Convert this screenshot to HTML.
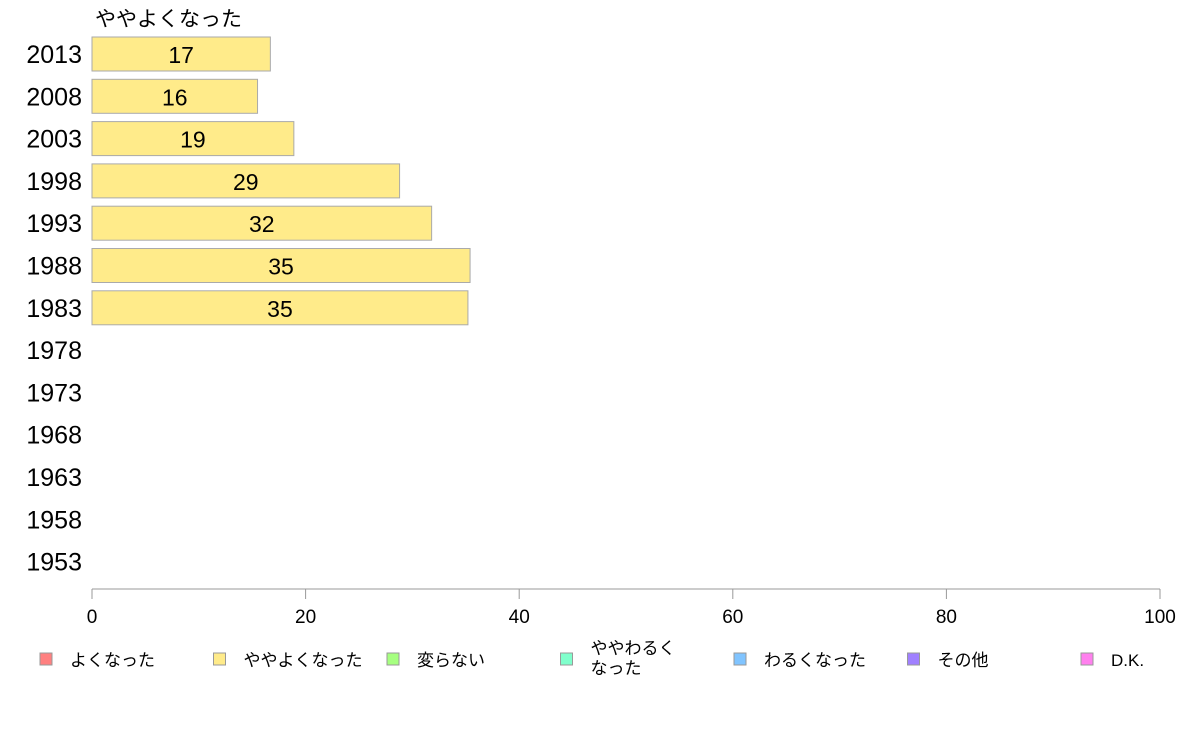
<!DOCTYPE html>
<html><head><meta charset="utf-8"><style>
html,body{margin:0;padding:0;background:#fff;}
svg{display:block;font-family:"Liberation Sans","Noto Sans CJK JP",sans-serif;}
</style></head><body>
<svg id="chart" width="1188" height="736" viewBox="0 0 1188 736">
<text x="95" y="26" font-size="21" fill="#000">ややよくなった</text>
<g id="rows"></g>
<g id="axis"></g>
<g id="legend"></g>
</svg>
<script>
const years = ["2013","2008","2003","1998","1993","1988","1983","1978","1973","1968","1963","1958","1953"];
const values = [16.7, 15.5, 18.9, 28.8, 31.8, 35.4, 35.2, null, null, null, null, null, null];
const labels = ["17","16","19","29","32","35","35","","","","","",""];
const ticks = [0, 20, 40, 60, 80, 100];
const legendNames = ["よくなった","ややよくなった","変らない","ややわるく\nなった","わるくなった","その他","D.K."];
const legendColors = ["#ff8080","#ffeb8a","#a6ff80","#80ffcc","#80c4ff","#a080ff","#ff80ee"];

const NS = "http://www.w3.org/2000/svg";
const x = v => 92 + v * 10.68;
const y = i => 54 + i * 42.3;
const rows = document.getElementById("rows");
function mk(tag, attrs, parent){const e=document.createElementNS(NS,tag);for(const k in attrs)e.setAttribute(k,attrs[k]);parent.appendChild(e);return e;}

years.forEach((yr,i)=>{
  const t = mk("text",{x:82,y:y(i)+9,"font-size":25,"text-anchor":"end",fill:"#000"},rows);
  t.textContent = yr;
  
  
  if(values[i]!=null){
    const r = mk("rect",{x:x(0),y:y(i)-17,width:x(values[i])-x(0),height:34,fill:"#ffeb8a",stroke:"#aaa","stroke-width":1},rows);
    
    
    const v = mk("text",{x:(x(0)+x(values[i]))/2,y:y(i)+9,"font-size":23,"text-anchor":"middle",fill:"#000"},rows);
    v.textContent = labels[i];
    
    
  }
});

const axis = document.getElementById("axis");
mk("line",{x1:x(0),x2:x(100),y1:589,y2:589,stroke:"#999","stroke-width":1},axis);
ticks.forEach(tv=>{
  mk("line",{x1:x(tv),x2:x(tv),y1:589,y2:599,stroke:"#999","stroke-width":1},axis);
  const t = mk("text",{x:x(tv),y:623,"font-size":19,"text-anchor":"middle",fill:"#000"},axis);
  t.textContent = tv;
  
  
});

const legend = document.getElementById("legend");
legendNames.forEach((n,i)=>{
  const lx = 40 + i*173.5;
  const g = mk("g",{},legend);
  
  
  mk("rect",{x:lx,y:653,width:12,height:12,fill:legendColors[i],stroke:"#999","stroke-width":1},g);
  const parts = n.split("\n");
  parts.forEach((p,j)=>{
    const t = mk("text",{x:lx+30,y:parts.length>1?(654+j*20):666,"font-size":17,fill:"#000"},g);
    t.textContent = p;
  });
});
</script>
</body></html>
